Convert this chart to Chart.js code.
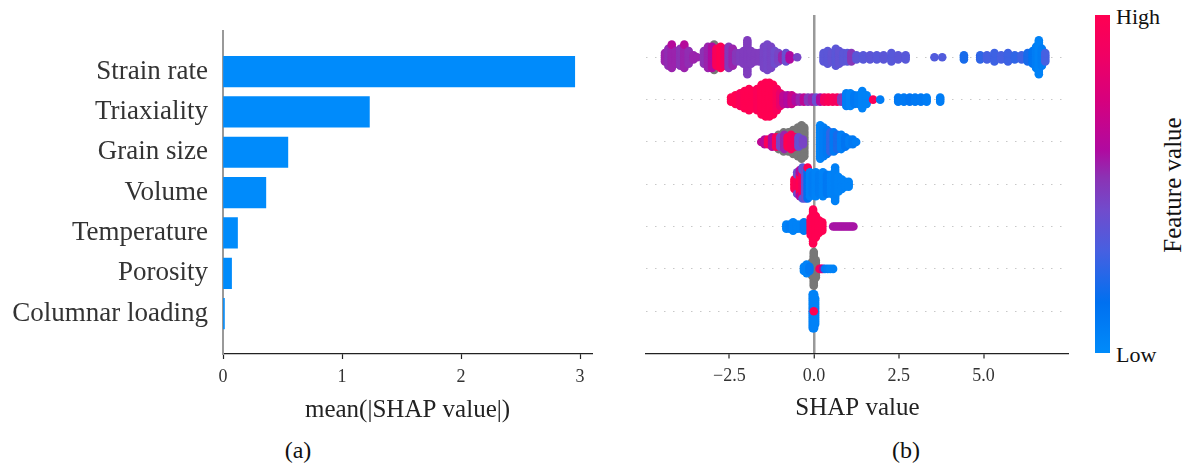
<!DOCTYPE html>
<html>
<head>
<meta charset="utf-8">
<script src="https://cdn.jsdelivr.net/npm/chart.js@4/dist/chart.umd.min.js"></script>
<style>
html,body{margin:0;padding:0;background:#fff;}
body{width:1188px;height:475px;overflow:hidden;position:relative;font-family:"Liberation Serif",serif;}
canvas{position:absolute;}
#ca{left:0;top:0;}
#cb{left:630px;top:0;}
.t{position:absolute;line-height:1;white-space:nowrap;color:#111;}
#cbar{position:absolute;left:1095px;top:15px;width:15px;height:338px;}
</style>
</head>
<body>
<canvas id="ca" width="600" height="425"></canvas>
<canvas id="cb" width="450" height="425"></canvas>
<div id="cbar"></div>
<div class="t" id="hi" style="left:1116px;top:5.6px;font-size:22px;">High</div>
<div class="t" id="lo" style="left:1116px;top:343.6px;font-size:22px;">Low</div>
<div class="t" id="fv" style="left:1171.6px;top:185px;font-size:25px;transform:translate(-50%,-50%) rotate(-90deg);">Feature value</div>
<div class="t" id="pa" style="left:298px;top:437.6px;font-size:24px;transform:translateX(-50%);">(a)</div>
<div class="t" id="pb" style="left:906px;top:437.6px;font-size:24px;transform:translateX(-50%);">(b)</div>
<script>
// ---------- data ----------
const features = ['Strain rate','Triaxiality','Grain size','Volume','Temperature','Porosity','Columnar loading'];
const meanAbsShap = [2.955, 1.23, 0.545, 0.36, 0.122, 0.072, 0.012];
const barTicks = [0, 1, 2, 3];
const shapTicks = [-2.5, 0, 2.5, 5];

// beeswarm entries: [SHAP value, number of samples at that value, feature value 0 (low) .. 1 (high), null = missing]
const strainRate = [
 [-4.40,5,0.55],[-4.30,9,0.53],[-4.20,11,0.55],[-4.20,1,0.62],[-4.08,7,0.55],[-3.95,9,0.52],[-3.83,11,0.55],[-3.83,1,0.62],[-3.70,7,0.53],[-3.56,3,0.55],[-3.45,1,0.55],
 [-3.25,7,0.52],[-3.13,11,0.55],[-3.01,11,0.6],[-2.95,13,null],[-2.88,9,0.95],[-2.76,11,1.0],[-2.64,9,0.9],[-2.52,11,0.5],[-2.40,9,0.55],[-2.30,5,0.5],
 [-2.18,5,0.48],[-2.08,7,0.48],[-1.97,17,0.48],[-1.86,7,0.48],[-1.74,5,0.48],[-1.62,5,0.48],
 [-1.48,11,0.45],[-1.38,13,0.44],[-1.27,11,0.45],[-1.16,7,0.42],[-1.05,5,0.45],[-0.94,3,0.55],[-0.83,5,0.4],[-0.72,3,0.6],[-0.50,1,0.45],
 [0.28,5,0.36],[0.40,7,0.36],[0.52,5,0.38],[0.64,9,0.36],[0.74,7,0.38],[0.86,5,0.36],[0.98,5,0.36],[1.10,5,0.5],
 [1.25,3,0.36],[1.45,3,0.35],[1.65,3,0.36],[1.85,3,0.35],[2.05,3,0.36],[2.28,5,0.35],[2.48,3,0.36],[2.70,3,0.35],
 [3.55,1,0.33],[3.78,1,0.33],[4.42,3,0.2],
 [4.90,3,0.25],[5.10,3,0.3],[5.32,5,0.28],[5.52,3,0.3],[5.72,5,0.28],[5.92,3,0.25],[6.12,3,0.28],[6.30,5,0.2],[6.45,7,0.12],[6.55,11,0.08],[6.63,17,0.05],[6.72,9,0.08],[6.82,5,0.3]
];
const triaxiality = [
 [-2.45,3,1],[-2.32,5,1],[-2.18,7,0.95],[-2.05,9,1],[-1.92,11,1],[-1.80,9,1],[-1.68,11,0.97],[-1.55,15,1],[-1.43,17,1],[-1.32,17,1],[-1.21,15,1],[-1.10,11,0.95],[-1.00,7,0.85],
 [-0.90,5,0.65],[-0.78,5,0.6],[-0.66,5,0.7],[-0.54,3,0.6],[-0.42,3,0.55],[-0.30,3,0.65],[-0.18,3,0.5],[-0.06,3,0.55],[0.06,3,0.4],[0.18,3,0.6],
 [0.30,3,0.9],[0.42,3,0.97],[0.55,3,0.95],[0.68,3,0.92],[0.80,3,0.5],
 [0.95,7,0.08],[1.07,7,0.05],[1.19,5,0.1],[1.31,5,0.08],[1.42,9,0.05],[1.55,5,0.05],[1.74,1,0.97],[1.95,1,0.08],
 [2.48,3,0.1],[2.65,3,0.1],[2.82,3,0.12],[2.98,3,0.1],[3.15,3,0.1],[3.32,3,0.08],[3.72,3,0.08]
];
const grainSize = [
 [-1.05,7,null],[-0.90,9,null],[-0.76,9,null],[-0.62,11,null],[-0.48,13,null],[-0.37,15,null],[-0.29,13,null],
 [-1.56,1,0.65],[-1.46,3,0.62],[-1.36,3,0.95],[-1.24,5,0.6],[-1.12,5,0.97],[-1.00,5,0.45],[-0.88,7,0.55],[-0.78,5,1],[-0.68,7,0.95],[-0.57,5,0.9],[-0.46,5,0.4],[-0.40,3,0.38],[-0.33,3,0.45],
 [0.18,15,0.05],[0.28,13,0.08],[0.38,11,0.1],[0.48,9,0.25],[0.58,9,0.1],[0.68,7,0.2],[0.80,7,0.08],[0.92,5,0.12],[1.04,3,0.08],[1.14,3,0.1],[1.24,1,0.08]
];
const volume = [
 [-0.58,5,1],[-0.50,7,0.95],[-0.50,3,0.4],[-0.42,9,1],[-0.42,3,0.6],[-0.34,11,0.9],[-0.34,3,0.35],[-0.26,13,0.4],[-0.19,13,0.15],[-0.19,1,1],[-0.12,11,0.05],[-0.04,9,0.08],
 [0.05,11,0.05],[0.15,9,0.08],[0.26,11,0.05],[0.38,9,0.1],[0.50,9,0.05],[0.62,15,0.06],[0.72,7,0.05],[0.82,5,0.05],[0.92,3,0.05],[1.02,3,0.05]
];
const temperature = [
 [-0.82,3,0.05],[-0.72,3,0.08],[-0.62,5,0.05],[-0.50,3,0.05],[-0.40,3,0.05],[-0.30,5,0.1],
 [-0.10,9,1],[-0.03,17,1],[0.05,11,1],[0.14,7,1],[0.24,5,1],
 [0.56,1,0.58],[0.62,1,0.58],[0.68,1,0.58],[0.74,1,0.58],[0.80,1,0.58],[0.86,1,0.58],[0.92,1,0.58],[0.98,1,0.58],[1.04,1,0.58],[1.10,1,0.58],[1.16,1,0.58]
];
const porosity = [
 [-0.01,17,null],[0.05,9,null],[-0.07,7,null],
 [-0.30,3,0.05],[-0.22,5,0.05],[-0.14,3,0.1],[0.16,1,0.9],[0.21,1,0.98],[0.26,1,0.6],[0.32,1,0.1],[0.40,1,0.08],[0.48,1,0.05],[0.56,1,0.05]
];
const columnarLoading = [
 [-0.04,17,0.05],[0.00,17,0.05],[0.03,13,0.05],[-0.01,1,1]
];

// ---------- colour map (SHAP red-blue) ----------
const cmapStops = [
 [0,[0,139,250]],[0.15,[0,112,240]],[0.3,[70,96,225]],[0.42,[112,76,205]],[0.52,[140,50,180]],
 [0.6,[176,10,160]],[0.75,[215,0,125]],[0.88,[240,0,100]],[1,[255,0,82]]
];
function cmap(t){
  t = Math.max(0, Math.min(1, t));
  for (let i = 1; i < cmapStops.length; i++) {
    const [p1, c1] = cmapStops[i], [p0, c0] = cmapStops[i-1];
    if (t <= p1) {
      const f = (t - p0) / (p1 - p0);
      return 'rgb(' + c0.map((v,k) => Math.round(v + (c1[k]-v)*f)).join(',') + ')';
    }
  }
  return 'rgb(255,0,82)';
}
document.getElementById('cbar').style.background =
  'linear-gradient(to top,' + cmapStops.map(([p,c]) => 'rgb(' + c.join(',') + ') ' + (p*100) + '%').join(',') + ')';

// ---------- beeswarm layout (SHAP style stacking) ----------
const SWARM_HALF = 0.45;   // half height of a row's swarm, in row units
function layoutRow(entries, row){
  const layers = new Map(); const items = [];
  for (const [v, n, c] of entries) {
    const key = v.toFixed(3); let layer = layers.get(key) || 0;
    for (let i = 0; i < n; i++, layer++) {
      items.push({ v, off: Math.ceil(layer / 2) * (layer % 2 ? 1 : -1), c });
    }
    layers.set(key, layer);
  }
  const s = SWARM_HALF / (Math.max(...items.map(p => p.off)) + 1);
  return items.map(p => ({ x: p.v, y: row - p.off * s, c: p.c }));
}
const swarmRows = [strainRate, triaxiality, grainSize, volume, temperature, porosity, columnarLoading];
const allPts = swarmRows.flatMap((r, i) => layoutRow(r, i));
const colored = allPts.filter(p => p.c !== null);
const missing = allPts.filter(p => p.c === null);

Chart.defaults.font.family = '"Liberation Serif", serif';
Chart.defaults.color = '#333';

const fmtShap = v => (v < 0 ? '\u2212' : '') + Math.abs(v).toFixed(1);

// ---------- panel (a) ----------
new Chart(document.getElementById('ca'), {
  type: 'bar',
  data: { datasets: [{
    data: meanAbsShap.map((v, i) => ({ x: v, y: i })),
    backgroundColor: '#008bfb', borderWidth: 0, barThickness: 30.5
  }]},
  options: {
    indexAxis: 'y', responsive: false, animation: false, devicePixelRatio: 1,
    layout: { padding: { top: 7, right: 8, bottom: 0, left: 0 } },
    plugins: { legend: { display: false }, tooltip: { enabled: false } },
    scales: {
      x: {
        type: 'linear', position: 'bottom', min: 0, max: 3.1, offset: false,
        afterBuildTicks: s => { s.ticks = barTicks.map(v => ({ value: v })); },
        afterFit: s => { s.height = 71; },
        ticks: { font: { size: 18 }, color: '#333', padding: 7, maxRotation: 0, autoSkip: false, callback: v => String(v) },
        grid: { drawOnChartArea: false, drawTicks: true, tickLength: 5, tickColor: '#222', tickWidth: 1.2, offset: false },
        border: { display: true, color: '#222', width: 1.2 },
        title: { display: true, text: 'mean(|SHAP value|)', font: { size: 25 }, color: '#222', padding: { top: 0, bottom: 0 } }
      },
      y: {
        type: 'linear', position: 'left', reverse: true, min: -1, max: 7, offset: false,
        afterBuildTicks: s => { s.ticks = features.map((f, i) => ({ value: i })); },
        afterFit: s => { s.width = 223; },
        ticks: { font: { size: 27 }, color: '#333', padding: 15, autoSkip: false, callback: v => features[v] },
        grid: { drawOnChartArea: false, drawTicks: false, offset: false },
        border: { display: true, color: '#999', width: 2 }
      }
    }
  }
});

// ---------- panel (b) ----------
new Chart(document.getElementById('cb'), {
  type: 'scatter',
  data: { datasets: [
    { data: colored, backgroundColor: colored.map(p => cmap(p.c)), pointRadius: 4.3, pointHoverRadius: 4.3, pointBorderWidth: 0, borderWidth: 0 },
    { data: missing, backgroundColor: '#777777', pointRadius: 4.3, pointHoverRadius: 4.3, pointBorderWidth: 0, borderWidth: 0 }
  ]},
  options: {
    responsive: false, animation: false, devicePixelRatio: 1,
    layout: { padding: { top: 15, right: 11, bottom: 0, left: 0 } },
    plugins: { legend: { display: false }, tooltip: { enabled: false } },
    scales: {
      x: {
        type: 'linear', position: 'bottom', min: -4.96, max: 7.52,
        afterBuildTicks: s => { s.ticks = shapTicks.map(v => ({ value: v })); },
        afterFit: s => { s.height = 71.5; },
        ticks: { font: { size: 18 }, color: '#333', padding: 7, maxRotation: 0, autoSkip: false, callback: v => fmtShap(v) },
        grid: {
          color: c => (c.tick && c.tick.value === 0) ? '#999999' : 'rgba(0,0,0,0)',
          lineWidth: c => (c.tick && c.tick.value === 0) ? 2.5 : 0,
          drawTicks: true, tickLength: 5, tickColor: '#222', tickWidth: 1.2
        },
        border: { display: true, color: '#222', width: 1.2 },
        title: { display: true, text: 'SHAP value', font: { size: 25 }, color: '#222', padding: { top: 0, bottom: 2 } }
      },
      y: {
        type: 'linear', position: 'left', reverse: true, min: -1, max: 7,
        afterBuildTicks: s => { s.ticks = features.map((f, i) => ({ value: i })); },
        afterFit: s => { s.width = 16; },
        ticks: { display: false },
        grid: { color: '#c8c8c8', lineWidth: 1, drawTicks: false, borderDash: [1.5, 7.5] },
        border: { display: false, dash: [1.5, 7.5] }
      }
    }
  }
});
</script>
</body>
</html>
